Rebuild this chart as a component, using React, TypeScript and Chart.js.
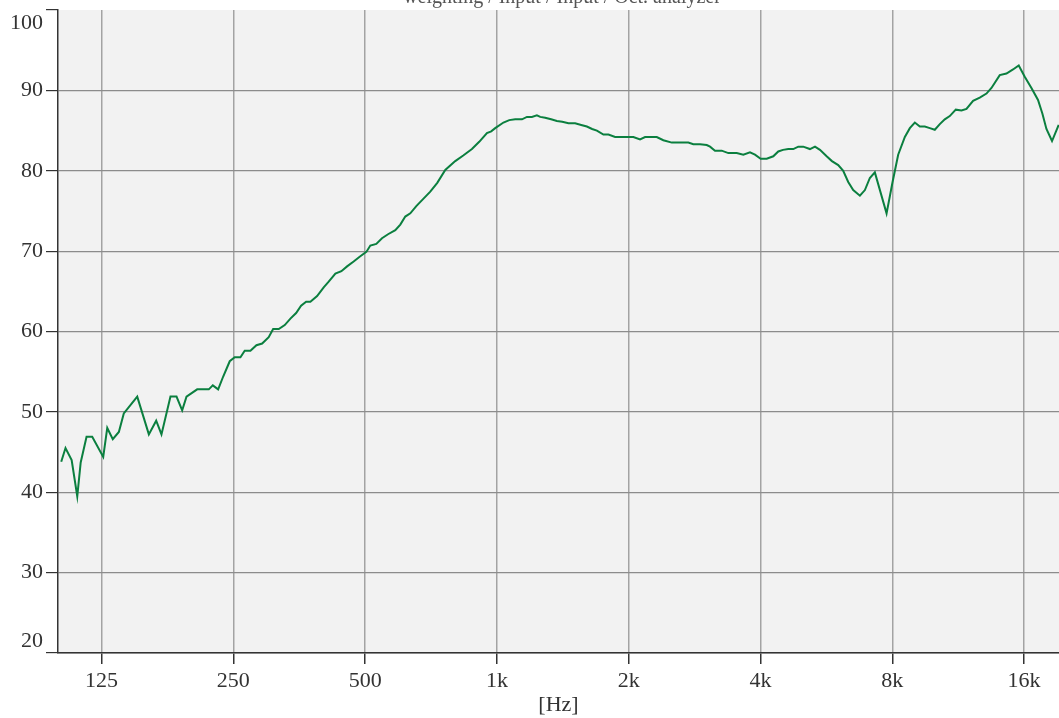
import React, { useEffect, useRef } from "react";
import { Chart, registerables } from "chart.js";

Chart.register(...registerables);

const chartTitle = "weighting / Input / Input / Oct. analyzer";
const xAxisTitle = "[Hz]";

const frequencies = [
  101.1, 103.4, 106.8, 110.0, 112.0, 115.5, 119.0, 126.1, 128.8, 132.6,
  136.9, 140.5, 150.8, 160.3, 166.6, 171.3, 179.6, 185.4, 191.0, 195.4,
  206.7, 219.7, 224.4, 230.8, 237.0, 245.3, 251.8, 259.5, 265.4, 273.5,
  282.3, 290.9, 301.1, 308.2, 317.4, 327.6, 337.5, 347.8, 357.0, 366.6,
  374.9, 388.4, 402.1, 412.8, 427.6, 441.3, 454.7, 470.7, 485.8, 503.2,
  513.9, 530.3, 546.4, 564.0, 586.0, 601.6, 617.6, 634.1, 654.4, 678.9,
  704.3, 730.7, 762.1, 803.2, 837.7, 876.9, 911.1, 948.8, 970.5, 991.1,
  1035, 1067, 1101, 1141, 1171, 1202, 1234, 1256, 1289, 1330,
  1371, 1410, 1457, 1509, 1558, 1605, 1650, 1692, 1751, 1798,
  1862, 1922, 1983, 2050, 2123, 2180, 2250, 2318, 2400, 2509,
  2579, 2655, 2737, 2810, 2911, 3015, 3068, 3149, 3262, 3378,
  3530, 3655, 3785, 3886, 4004, 4133, 4279, 4393, 4503, 4630,
  4753, 4880, 5009, 5189, 5328, 5469, 5665, 5825, 6021, 6181,
  6346, 6515, 6748, 6928, 7111, 7300, 7764, 8013, 8253, 8548,
  8775, 9009, 9249, 9495, 9748, 10006, 10273, 10546, 10826, 11174,
  11514, 11820, 12238, 12675, 13131, 13480, 14081, 14586, 15100, 15560,
  16059, 16634, 17221, 17625, 18000, 18537, 19200,
];

const levels = [
  43.8, 45.5, 44.0, 39.5, 43.7, 46.9, 46.9, 44.4, 48.0, 46.6,
  47.5, 49.8, 51.9, 47.2, 48.9, 47.2, 51.9, 51.9, 50.2, 51.9,
  52.8, 52.8, 53.3, 52.8, 54.4, 56.3, 56.8, 56.8, 57.6, 57.6,
  58.3, 58.5, 59.3, 60.3, 60.3, 60.8, 61.6, 62.3, 63.2, 63.7,
  63.7, 64.4, 65.5, 66.2, 67.2, 67.5, 68.1, 68.7, 69.3, 69.9,
  70.7, 70.9, 71.6, 72.1, 72.6, 73.3, 74.3, 74.7, 75.6, 76.5,
  77.4, 78.5, 80.1, 81.2, 81.9, 82.7, 83.6, 84.7, 84.9, 85.3,
  86.0, 86.3, 86.4, 86.4, 86.7, 86.7, 86.9, 86.7, 86.6, 86.4,
  86.2, 86.1, 85.9, 85.9, 85.7, 85.5, 85.2, 85.0, 84.5, 84.5,
  84.2, 84.2, 84.2, 84.2, 83.9, 84.2, 84.2, 84.2, 83.8, 83.5,
  83.5, 83.5, 83.5, 83.3, 83.3, 83.2, 83.0, 82.5, 82.5, 82.2,
  82.2, 82.0, 82.3, 82.0, 81.5, 81.5, 81.8, 82.4, 82.6, 82.7,
  82.7, 83.0, 83.0, 82.7, 83.0, 82.6, 81.8, 81.2, 80.7, 80.0,
  78.6, 77.6, 76.9, 77.6, 79.1, 79.8, 74.7, 78.6, 82.0, 84.2,
  85.3, 86.0, 85.5, 85.5, 85.3, 85.1, 85.8, 86.4, 86.8, 87.6,
  87.5, 87.7, 88.7, 89.1, 89.6, 90.3, 91.9, 92.1, 92.6, 93.1,
  91.7, 90.3, 88.8, 87.1, 85.2, 83.7, 85.7,
];

const xTickValues = [125, 250, 500, 1000, 2000, 4000, 8000, 16000];
const xTickLabels = ["125", "250", "500", "1k", "2k", "4k", "8k", "16k"];
const yTickValues = [20, 30, 40, 50, 60, 70, 80, 90, 100];

const FONT_FAMILY = '"Liberation Serif", "DejaVu Serif", serif';

export default function App() {
  const canvasRef = useRef<HTMLCanvasElement | null>(null);

  useEffect(() => {
    const canvas = canvasRef.current;
    if (!canvas) return;

    const plotBackground = {
      id: "plotBackground",
      beforeDraw(chart: any) {
        const { ctx, chartArea } = chart;
        ctx.save();
        ctx.fillStyle = "#f2f2f2";
        ctx.fillRect(chartArea.left, chartArea.top, chartArea.right - chartArea.left, chartArea.bottom - chartArea.top);
        ctx.restore();
      },
    };

    const labelsPlugin = {
      id: "labelsPlugin",
      afterDraw(chart: any) {
        const { ctx } = chart;
        const y = chart.scales.y;
        ctx.save();
        ctx.font = `22px ${FONT_FAMILY}`;
        ctx.fillStyle = "#333333";
        ctx.textAlign = "right";
        ctx.textBaseline = "middle";
        yTickValues.forEach((v) => {
          let py = y.getPixelForValue(v);
          if (v === yTickValues[yTickValues.length - 1]) py += 13;
          if (v === yTickValues[0]) py -= 12;
          ctx.fillText(String(v), y.right - 15, py);
        });
        ctx.font = `20px ${FONT_FAMILY}`;
        ctx.fillStyle = "#555555";
        ctx.textAlign = "center";
        ctx.textBaseline = "alphabetic";
        ctx.fillText(chartTitle, 562, 3);
        ctx.restore();
      },
    };

    const chart = new Chart(canvas, {
      type: "line",
      data: {
        datasets: [
          {
            data: frequencies.map((f, i) => ({ x: f, y: levels[i] })),
            borderColor: "#0b7f3f",
            borderWidth: 2,
            pointRadius: 0,
            tension: 0,
            fill: false,
          },
        ],
      },
      options: {
        responsive: false,
        animation: false,
        layout: { padding: { top: 10, right: 0, left: 0, bottom: 0 } },
        plugins: {
          legend: { display: false },
          tooltip: { enabled: false },
          title: { display: false },
        },
        scales: {
          x: {
            type: "logarithmic",
            min: 99.4,
            max: 19230,
            afterBuildTicks: (scale: any) => {
              scale.ticks = xTickValues.map((v) => ({ value: v }));
            },
            afterFit: (scale: any) => {
              scale.height = 65;
            },
            ticks: {
              autoSkip: false,
              maxRotation: 0,
              padding: 4,
              color: "#333333",
              font: { family: FONT_FAMILY, size: 22 },
              callback: (value: any) => {
                const idx = xTickValues.indexOf(Number(value));
                return idx >= 0 ? xTickLabels[idx] : "";
              },
            },
            grid: {
              color: "#a3a3a3",
              lineWidth: 1.5,
              tickColor: "#333333",
              tickLength: 11,
            },
            border: { color: "#333333", width: 1.5 },
            title: {
              display: true,
              text: xAxisTitle,
              color: "#333333",
              font: { family: FONT_FAMILY, size: 22 },
              padding: { top: 0, bottom: 0 },
            },
          },
          y: {
            min: 20,
            max: 100,
            afterBuildTicks: (scale: any) => {
              scale.ticks = yTickValues.map((v) => ({ value: v }));
            },
            afterFit: (scale: any) => {
              scale.width = 58;
            },
            ticks: { display: false },
            grid: {
              color: (ctx: any) => (ctx.tick && ctx.tick.value === 100 ? "rgba(0,0,0,0)" : "#8c8c8c"),
              lineWidth: 1.2,
              tickColor: "#333333",
              tickLength: 12,
            },
            border: { color: "#333333", width: 1.5 },
          },
        },
      },
      plugins: [plotBackground, labelsPlugin],
    } as any);

    return () => chart.destroy();
  }, []);

  return (
    <div style={{ position: "absolute", left: 0, top: 0, width: 1059, height: 718, background: "#ffffff" }}>
      <canvas ref={canvasRef} width={1059} height={718} style={{ display: "block", width: 1059, height: 718 }} />
    </div>
  );
}
